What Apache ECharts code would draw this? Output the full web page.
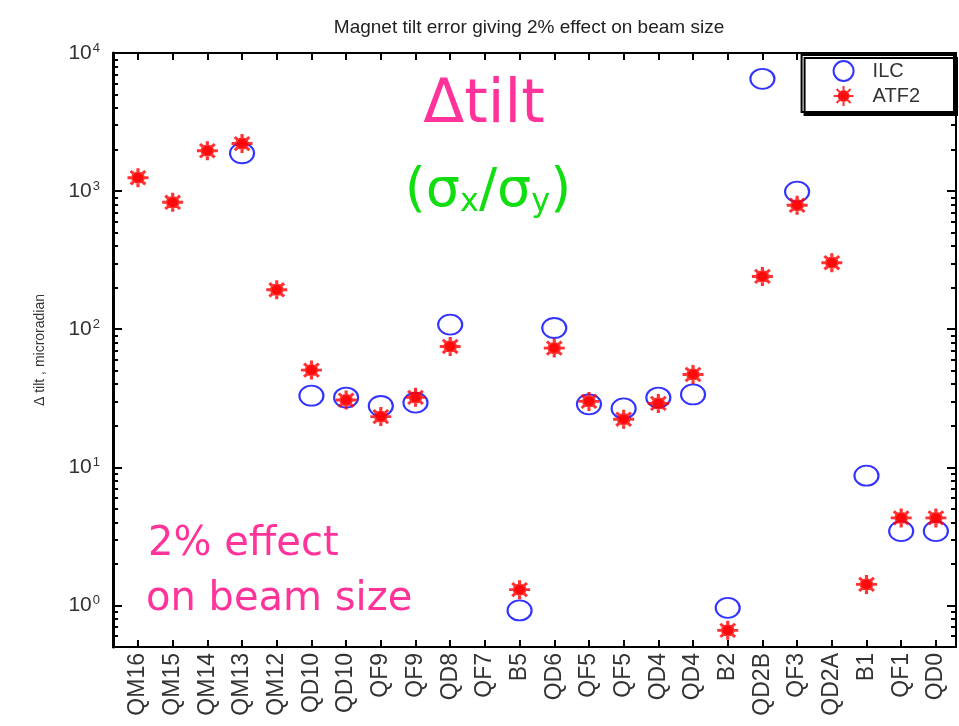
<!DOCTYPE html>
<html>
<head>
<meta charset="utf-8">
<script src="https://cdn.jsdelivr.net/npm/echarts@6/dist/echarts.min.js"></script>
<style>
html, body { margin: 0; padding: 0; background: #fff; }
#main { width: 959px; height: 726px; }
</style>
</head>
<body>
<div id="main"></div>
<script>
// magnets along the beamline
const magnets = ['QM16', 'QM15', 'QM14', 'QM13', 'QM12', 'QD10', 'QD10', 'QF9', 'QF9', 'QD8', 'QF7', 'B5',
    'QD6', 'QF5', 'QF5', 'QD4', 'QD4', 'B2', 'QD2B', 'QF3', 'QD2A', 'B1', 'QF1', 'QD0']
// tilt tolerance (microradian) for 2% beam size effect
const ilcTilt = [null, null, null, 1880, null, 33, 32, 27.8, 29.4, 108, null, 0.92,
    102, 28.6, 26.7, 32, 33.7, 0.96, 6500, 990, null, 8.7, 3.45, 3.45]
const atf2Tilt = [1250, 830, 1960, 2210, 193, 50.6, 30.7, 23.3, 32.1, 75, null, 1.3,
    73, 30, 22.3, 29, 47, 0.66, 241, 790, 303, 1.42, 4.3, 4.3]

// axis ticks
const decadeTicks = [1, 10, 100, 1000, 10000]
const minorTicks = [0.6, 0.7, 0.8, 0.9, 2, 3, 4, 5, 6, 7, 8, 9, 20, 30, 40, 50, 60, 70, 80, 90,
    200, 300, 400, 500, 600, 700, 800, 900, 2000, 3000, 4000, 5000, 6000, 7000, 8000, 9000]
const magnetIdx = magnets.map((m, i) => i)

const toPoints = arr => arr.map((v, i) => [i, v]).filter(p => p[1] != null)

const starPath = 'path://M10,0L10,20M0,10L20,10M3,3L17,17M3,17L17,3M10,5A5,5,0,1,1,9.99,5Z'

const chart = echarts.init(document.getElementById('main'))

const xCommon = {
    type: 'value',
    min: -0.72,
    max: 23.58,
    splitLine: { show: false },
    axisLine: { show: true, onZero: false, lineStyle: { color: '#000', width: 2 } },
    axisTick: { show: true, inside: true, length: 7, lineStyle: { color: '#000', width: 2 }, customValues: magnetIdx }
}
const yCommon = {
    type: 'log',
    logBase: 10,
    min: 0.5,
    max: 10000,
    splitLine: { show: false }
}

const option = {
    animation: false,
    backgroundColor: '#fff',
    grid: { left: 113, right: 3, top: 53, bottom: 79 },
    legend: {
        right: 5,
        top: 55,
        orient: 'vertical',
        backgroundColor: '#fff',
        borderColor: '#000',
        borderWidth: 2,
        borderRadius: 0,
        padding: [5, 34, 5, 31],
        itemGap: 3,
        itemWidth: 24,
        itemHeight: 20,
        shadowColor: '#000',
        shadowOffsetX: 3,
        shadowOffsetY: 3,
        shadowBlur: 0,
        textStyle: { fontSize: 20, color: '#333', fontFamily: 'Liberation Sans', padding: [0, 0, 0, 12] },
        data: ['ILC', 'ATF2']
    },
    xAxis: [
        Object.assign({}, xCommon, {
            position: 'bottom',
            axisLabel: {
                customValues: magnetIdx,
                formatter: v => magnets[Math.round(v)],
                rotate: 90,
                fontSize: 23,
                margin: 6,
                color: '#333',
                fontFamily: 'Liberation Sans'
            }
        }),
        Object.assign({}, xCommon, { position: 'top', axisLabel: { show: false } })
    ],
    yAxis: [
        Object.assign({}, yCommon, {
            position: 'left',
            name: 'Δ tilt , microradian',
            nameLocation: 'middle',
            nameGap: 66,
            nameTextStyle: { fontSize: 14, color: '#333', fontFamily: 'Liberation Sans' },
            axisLine: { show: true, onZero: false, lineStyle: { color: '#000', width: 3 } },
            axisTick: { show: true, inside: true, length: 9, lineStyle: { color: '#000', width: 2 }, customValues: decadeTicks },
            axisLabel: {
                customValues: decadeTicks,
                formatter: v => '10{s|' + Math.round(Math.log10(v)) + '}',
                margin: 13,
                color: '#333',
                fontSize: 21,
                fontFamily: 'Liberation Sans',
                rich: { s: { fontSize: 13, verticalAlign: 'top', color: '#333', fontFamily: 'Liberation Sans', padding: [0, 0, 10, 1] } }
            }
        }),
        Object.assign({}, yCommon, {
            position: 'left',
            axisLine: { show: false, onZero: false },
            axisTick: { show: true, inside: true, length: 5, lineStyle: { color: '#000', width: 2 }, customValues: minorTicks },
            axisLabel: { show: false }
        }),
        Object.assign({}, yCommon, {
            position: 'right',
            axisLine: { show: true, onZero: false, lineStyle: { color: '#000', width: 2 } },
            axisTick: { show: true, inside: true, length: 9, lineStyle: { color: '#000', width: 2 }, customValues: decadeTicks },
            axisLabel: { show: false }
        }),
        Object.assign({}, yCommon, {
            position: 'right',
            axisLine: { show: false, onZero: false },
            axisTick: { show: true, inside: true, length: 5, lineStyle: { color: '#000', width: 2 }, customValues: minorTicks },
            axisLabel: { show: false }
        })
    ],
    graphic: [
        {
            type: 'text', x: 529, y: 28,
            style: { text: 'Magnet tilt error giving 2% effect on beam size', fontSize: 19, fill: '#222',
                fontFamily: 'Liberation Sans', align: 'center', verticalAlign: 'middle' }
        },
        {
            type: 'text', x: 484, y: 106,
            style: { text: 'Δtilt', fontSize: 60, fill: '#ff3399', fontFamily: 'DejaVu Sans', align: 'center', verticalAlign: 'middle' }
        },
        {
            type: 'text', x: 488, y: 192,
            style: {
                text: '(σ{s|x}/σ{s|y})', fontSize: 54, fill: '#11dd11', fontFamily: 'DejaVu Sans', align: 'center', verticalAlign: 'middle',
                rich: { s: { fontSize: 32, fill: '#11dd11', fontFamily: 'DejaVu Sans', verticalAlign: 'bottom', padding: [14, 0, 0, 0] } }
            }
        },
        {
            type: 'text', x: 148, y: 545,
            style: { text: '2% effect', fontSize: 40, fill: '#ff3399', fontFamily: 'DejaVu Sans', align: 'left', verticalAlign: 'middle' }
        },
        {
            type: 'text', x: 146, y: 600,
            style: { text: 'on beam size', fontSize: 40, fill: '#ff3399', fontFamily: 'DejaVu Sans', align: 'left', verticalAlign: 'middle' }
        }
    ],
    series: [
        {
            name: 'ILC',
            type: 'scatter',
            symbol: 'emptyCircle',
            symbolSize: [24, 20],
            itemStyle: { color: '#0000ff', borderWidth: 3 },
            data: toPoints(ilcTilt)
        },
        {
            name: 'ATF2',
            type: 'scatter',
            symbol: starPath,
            symbolSize: [21, 19],
            itemStyle: { color: '#ff0000', borderColor: '#ff0000', borderWidth: 3 },
            data: toPoints(atf2Tilt)
        }
    ]
}

chart.setOption(option)
</script>
</body>
</html>
